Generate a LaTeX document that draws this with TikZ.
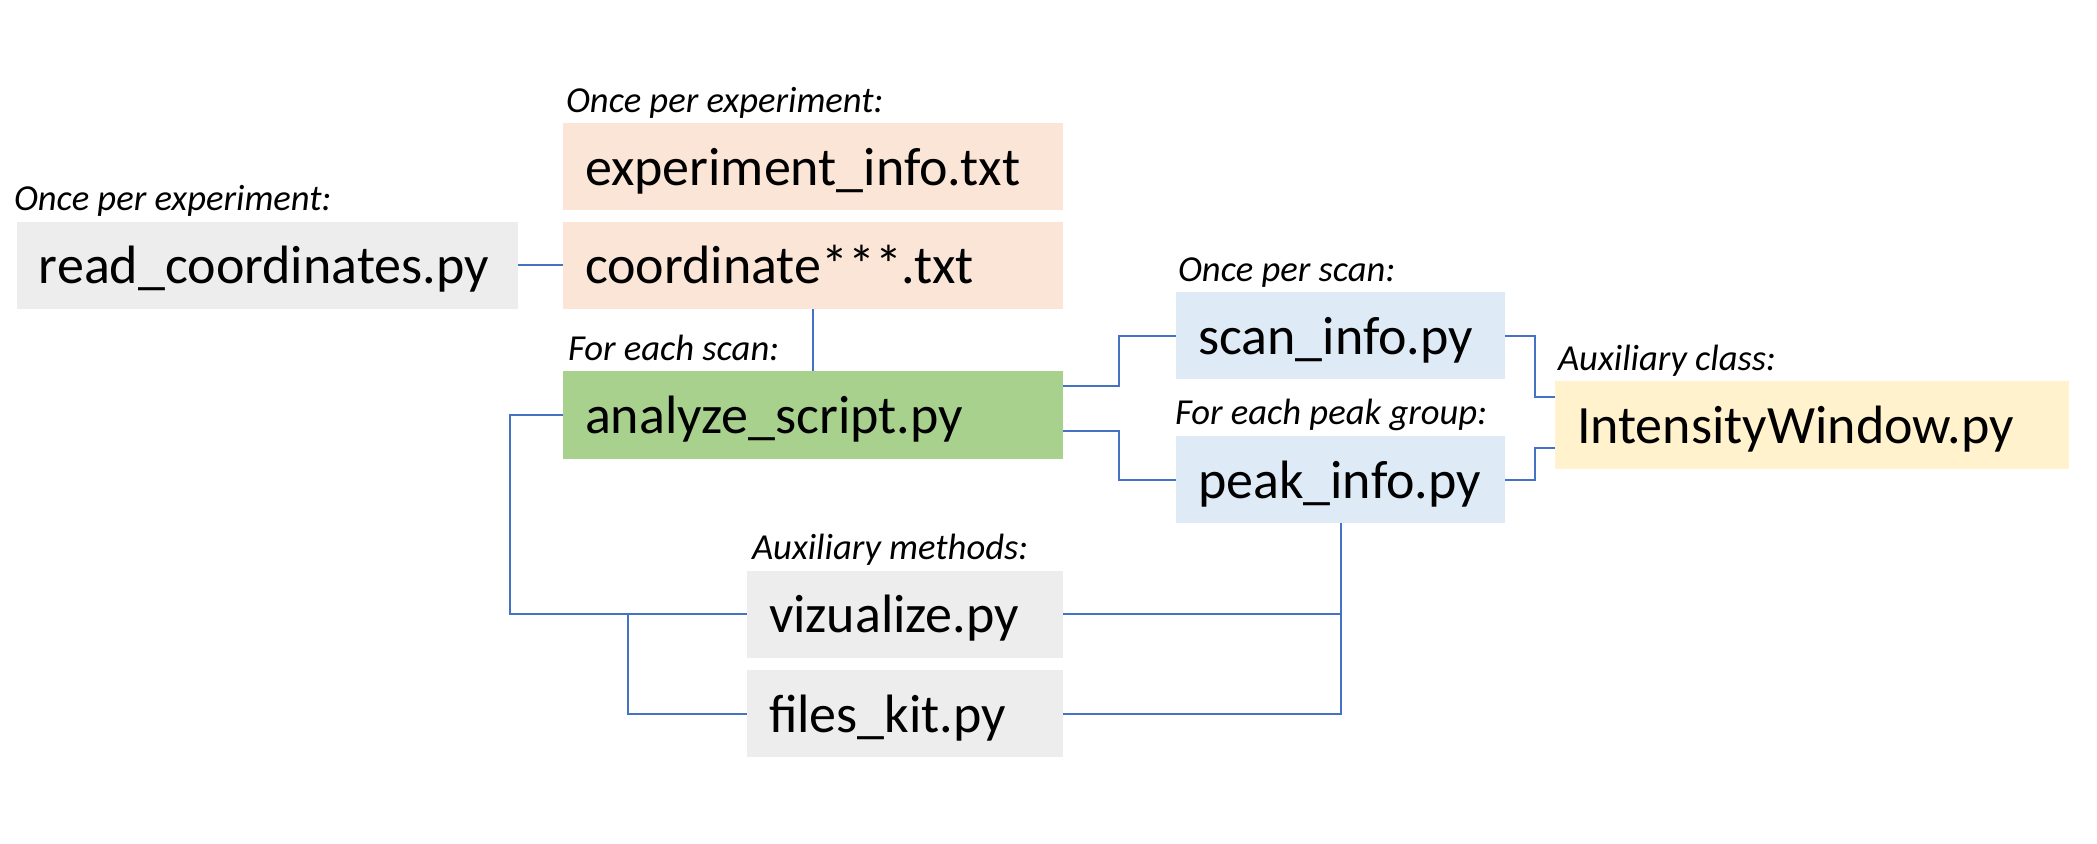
\documentclass[tikz,border=0pt]{standalone}
\usepackage{fontspec}
\setmainfont{Carlito}
\usetikzlibrary{positioning, calc}
\definecolor{cpeach}{HTML}{FBE5D6}
\definecolor{cgreen}{HTML}{A9D18E}
\definecolor{cblue}{HTML}{DEEBF7}
\definecolor{cyellow}{HTML}{FFF2CC}
\definecolor{cgrey}{HTML}{EDEDED}
\definecolor{clink}{HTML}{4472C4}
\tikzset{
  filebox/.style={
    fill=#1, draw=none, align=left, inner xsep=11pt, inner ysep=0pt,
    text height=23pt, text depth=4.5pt,
    minimum height=43.5pt, font=\fontsize{27}{31}\selectfont
  },
  filebox/.default=cgrey,
  note/.style={
    anchor=base west, inner sep=0pt, font=\fontsize{18.3}{22}\selectfont\itshape
  },
  link/.style={draw=clink, line width=1pt}
}
\begin{document}
\begin{tikzpicture}[x=0.5pt,y=-0.5pt]
  \useasboundingbox (0,0) rectangle (2097,844);
  \node[filebox=cgrey,text width=228.5pt] (readc) at (267.5,265.5) {read\_coordinates.py};
  \node[filebox=cpeach,text width=228pt] (expinfo) at (813,167) {experiment\_info.txt};
  \node[filebox=cpeach,text width=228pt] (coord) at (813,265.5) {coordinate***.txt};
  \node[filebox=cgreen,text width=228pt] (analyze) at (813,415) {analyze\_script.py};
  \node[filebox=cblue,text width=142.5pt] (scan) at (1340.5,336) {scan\_info.py};
  \node[filebox=cblue,text width=142.5pt] (peak) at (1340.5,479.5) {peak\_info.py};
  \node[filebox=cyellow,text width=235pt] (iwin) at (1812,425) {IntensityWindow.py};
  \node[filebox=cgrey,text width=136pt] (viz) at (905,614) {vizualize.py};
  \node[filebox=cgrey,text width=136pt] (fkit) at (905,713.5) {files\_kit.py};

  \node[note] (lreadc) at ($(readc.north west)+(-3,-11)$) {Once per experiment:};
  \node[note] (lexp) at ($(expinfo.north west)+(3,-11)$) {Once per experiment:};
  \node[note] (lanalyze) at ($(analyze.north west)+(5,-11)$) {For each scan:};
  \node[note] (lscan) at ($(scan.north west)+(2,-11)$) {Once per scan:};
  \node[note] (lpeak) at ($(peak.north west)+(-1,-11)$) {For each peak group:};
  \node[note] (liwin) at ($(iwin.north west)+(3,-11)$) {Auxiliary class:};
  \node[note] (lviz) at ($(viz.north west)+(5,-11)$) {Auxiliary methods:};

  \draw[link] (readc.east) -- (coord.west);
  \draw[link] (coord.south) -- (analyze.north);
  \draw[link] ([yshift=14.5pt]analyze.east) -- ++(56,0) |- (scan.west);
  \draw[link] ([yshift=-8pt]analyze.east) -- ++(56,0) |- (peak.west);
  \draw[link] (scan.east) -- ++(30,0) |- ([yshift=14pt]iwin.west);
  \draw[link] (peak.east) -- ++(30,0) |- ([yshift=-11.5pt]iwin.west);
  \draw[link] (analyze.west) -- ++(-53,0) |- (viz.west);
  \coordinate (split) at ([xshift=-59.5pt]viz.west);
  \draw[link] (split) |- (fkit.west);
  \draw[link] (peak.south) |- (fkit.east);
  \draw[link] (viz.east) -- (viz.east -| peak.south);
\end{tikzpicture}
\end{document}
